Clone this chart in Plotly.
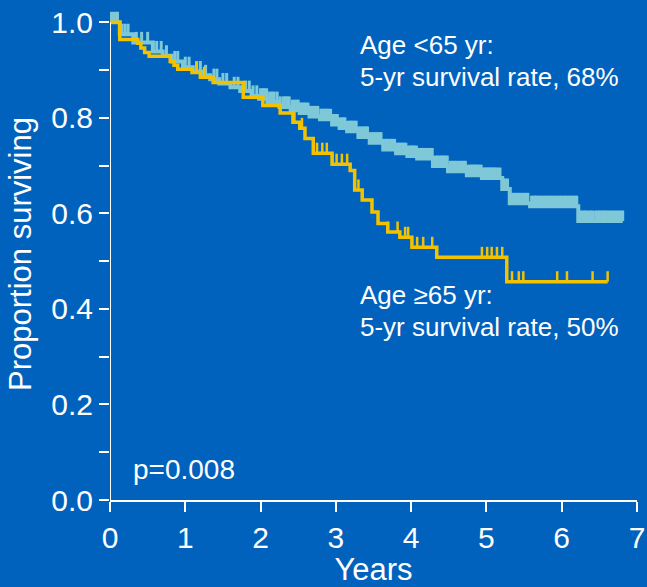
import numpy as np
import plotly.graph_objects as go

# ---- data (years, proportion surviving) ----
# Age <65 yr: Kaplan-Meier step points (time of step, survival after step)
young_t = [0, 0.13, 0.31, 0.57, 0.70, 0.82, 0.97, 1.10, 1.22, 1.33, 1.45, 1.60,
           1.73, 1.88, 1.98, 2.09, 2.25, 2.40, 2.52, 2.65, 2.79, 2.95, 3.05, 3.15,
           3.30, 3.45, 3.63, 3.80, 3.95, 4.08, 4.29, 4.49, 4.74, 4.94, 5.21, 5.31,
           5.58, 6.22, 6.81]
young_s = [1.0, 0.975, 0.958, 0.939, 0.930, 0.918, 0.906, 0.897, 0.889, 0.881,
           0.872, 0.864, 0.856, 0.846, 0.840, 0.833, 0.823, 0.816, 0.810, 0.803,
           0.797, 0.786, 0.779, 0.772, 0.760, 0.748, 0.734, 0.726, 0.720, 0.715,
           0.699, 0.688, 0.680, 0.674, 0.651, 0.621, 0.615, 0.584, 0.584]
young_censor = [0.02, 0.05, 0.08, 0.10, 0.16, 0.20, 0.24, 0.35, 0.42, 0.50, 0.62,
                0.68, 0.75, 0.86, 0.90, 1.00, 1.05, 1.15, 1.20, 1.27, 1.38, 1.42,
                1.50, 1.55, 1.65, 1.70, 1.80, 1.85, 1.90, 1.95, 2.00, 2.03, 2.05,
                2.08, 2.12, 2.15, 2.18, 2.22, 2.26, 2.30, 2.33, 2.35, 2.38, 2.42,
                2.45, 2.48, 2.50, 2.53, 2.55, 2.58, 2.60, 2.63, 2.66, 2.68, 2.70,
                2.72, 2.74, 2.76, 2.80, 2.82, 2.84, 2.86, 2.88, 2.90, 2.93, 2.96,
                2.98, 3.00, 3.02, 3.05, 3.08, 3.10, 3.12, 3.15, 3.18, 3.20, 3.22,
                3.25, 3.27, 3.30, 3.33, 3.35, 3.38, 3.40, 3.42, 3.45, 3.48, 3.50,
                3.53, 3.55, 3.58, 3.60, 3.63, 3.66, 3.68, 3.70, 3.73, 3.75, 3.78,
                3.80, 3.83, 3.85, 3.88, 3.90, 3.93, 3.95, 3.98, 4.00, 4.02, 4.04,
                4.07, 4.10, 4.12, 4.14, 4.16, 4.18, 4.20, 4.23, 4.25, 4.28, 4.30,
                4.33, 4.35, 4.38, 4.40, 4.42, 4.44, 4.46, 4.48, 4.52, 4.54, 4.56,
                4.58, 4.60, 4.63, 4.65, 4.68, 4.70, 4.72, 4.75, 4.78, 4.80, 4.82,
                4.84, 4.86, 4.88, 4.90, 4.93, 4.96, 4.98, 5.00, 5.02, 5.04, 5.06,
                5.08, 5.10, 5.12, 5.15, 5.18, 5.23, 5.25, 5.28, 5.33, 5.35, 5.38,
                5.40, 5.43, 5.45, 5.48, 5.50, 5.53, 5.55, 5.60, 5.62, 5.64, 5.66,
                5.68, 5.70, 5.73, 5.75, 5.78, 5.80, 5.83, 5.85, 5.88, 5.90, 5.93,
                5.95, 5.98, 6.00, 6.03, 6.05, 6.08, 6.10, 6.13, 6.15, 6.18, 6.20,
                6.24, 6.27, 6.30, 6.32, 6.35, 6.38, 6.41, 6.45, 6.48, 6.50, 6.53,
                6.55, 6.58, 6.60, 6.63, 6.66, 6.69, 6.72, 6.75, 6.78, 6.81]

# Age >=65 yr
old_t = [0, 0.13, 0.37, 0.41, 0.46, 0.52, 0.80, 0.85, 0.90, 1.09, 1.20, 1.37,
         1.77, 2.03, 2.26, 2.43, 2.52, 2.59, 2.70, 2.95, 3.19, 3.25, 3.35, 3.48,
         3.56, 3.69, 3.85, 4.01, 4.34, 5.27, 6.61]
old_s = [1.0, 0.964, 0.956, 0.946, 0.937, 0.929, 0.918, 0.910, 0.902, 0.895,
         0.885, 0.874, 0.843, 0.826, 0.810, 0.791, 0.778, 0.757, 0.726, 0.703,
         0.690, 0.649, 0.628, 0.603, 0.579, 0.561, 0.550, 0.529, 0.508, 0.457,
         0.457]
old_censor = [1.15, 1.25, 2.45, 2.55, 2.75, 2.82, 2.88, 2.95, 3.01, 3.08, 3.15,
              3.30, 3.69, 3.82, 3.92, 3.96, 4.08, 4.16, 4.28, 4.34, 4.94, 5.01,
              5.07, 5.14, 5.21, 5.34, 5.43, 5.49, 5.94, 6.07, 6.41, 6.61]

x_ticks = [0, 1, 2, 3, 4, 5, 6, 7]
y_ticks = [0.0, 0.1, 0.2, 0.3, 0.4, 0.5, 0.6, 0.7, 0.8, 0.9, 1.0]
y_ticktext = ["0.0", "", "0.2", "", "0.4", "", "0.6", "", "0.8", "", "1.0"]

BG = "#0062BC"
BLUE = "#7EC8D8"
YELLOW = "#F2C200"
WHITE = "#FFFFFF"
FONT = "Liberation Sans, Arial, Helvetica, sans-serif"
TICK_H = 0.022


def surv_at(times, steps, vals):
    idx = np.searchsorted(np.array(steps), np.array(times), side="right") - 1
    return list(np.array(vals)[idx])


fig = go.Figure()

for t, s, cens, col, lw, tw in [(young_t, young_s, young_censor, BLUE, 4, 3),
                                (old_t, old_s, old_censor, YELLOW, 3.5, 2.5)]:
    fig.add_trace(go.Scatter(x=t, y=s, mode="lines", line=dict(color=col, width=lw, shape="hv"),
                             showlegend=False, hoverinfo="skip"))
    fig.add_trace(go.Scatter(
        x=cens, y=surv_at(cens, t, s), mode="markers",
        marker=dict(size=1, color=col, opacity=0),
        error_y=dict(type="constant", symmetric=False, value=TICK_H, valueminus=0,
                     width=0, thickness=tw, color=col),
        showlegend=False, hoverinfo="skip"))

# y-axis line from 0 to 1.0
fig.add_shape(type="line", xref="x", yref="y", x0=0, x1=0, y0=0, y1=1.0,
              line=dict(color=WHITE, width=2))

ann_font = dict(family=FONT, size=26, color=WHITE)
notes = [("Age &lt;65 yr:", 0.919, "bottom"), ("5-yr survival rate, 68%", 0.919, "top"),
         ("Age ≥65 yr:", 0.396, "bottom"), ("5-yr survival rate, 50%", 0.396, "top")]
for txt, yv, anc in notes:
    fig.add_annotation(x=3.307, y=yv, xref="x", yref="y", text=txt, showarrow=False,
                       xanchor="left", yanchor=anc, borderpad=0, font=ann_font)
fig.add_annotation(x=0.279, y=0.063, xref="x", yref="y", text="p=0.008", showarrow=False,
                   xanchor="left", yanchor="middle",
                   font=dict(family=FONT, size=28, color=WHITE))

fig.update_layout(
    width=647, height=587,
    margin=dict(l=110, r=10, t=8, b=87),
    paper_bgcolor=BG, plot_bgcolor=BG,
    font=dict(family=FONT, color=WHITE),
    xaxis=dict(range=[0, 7], tickvals=x_ticks, ticks="outside", ticklen=10, tickwidth=2,
               tickcolor=WHITE, showline=True, linecolor=WHITE, linewidth=2,
               showgrid=False, zeroline=False, tickfont=dict(size=30, family=FONT, color=WHITE),
               title=dict(text="Years", font=dict(size=31, family=FONT, color=WHITE), standoff=8),
               automargin=False),
    yaxis=dict(range=[0, 1.03], tickvals=y_ticks, ticktext=y_ticktext, ticks="outside",
               ticklen=10, tickwidth=2, tickcolor=WHITE, showline=False,
               showgrid=False, zeroline=False, tickfont=dict(size=30, family=FONT, color=WHITE),
               title=dict(text="Proportion surviving", font=dict(size=31, family=FONT, color=WHITE),
                          standoff=10),
               automargin=False),
)

fig.write_html("out.html")
